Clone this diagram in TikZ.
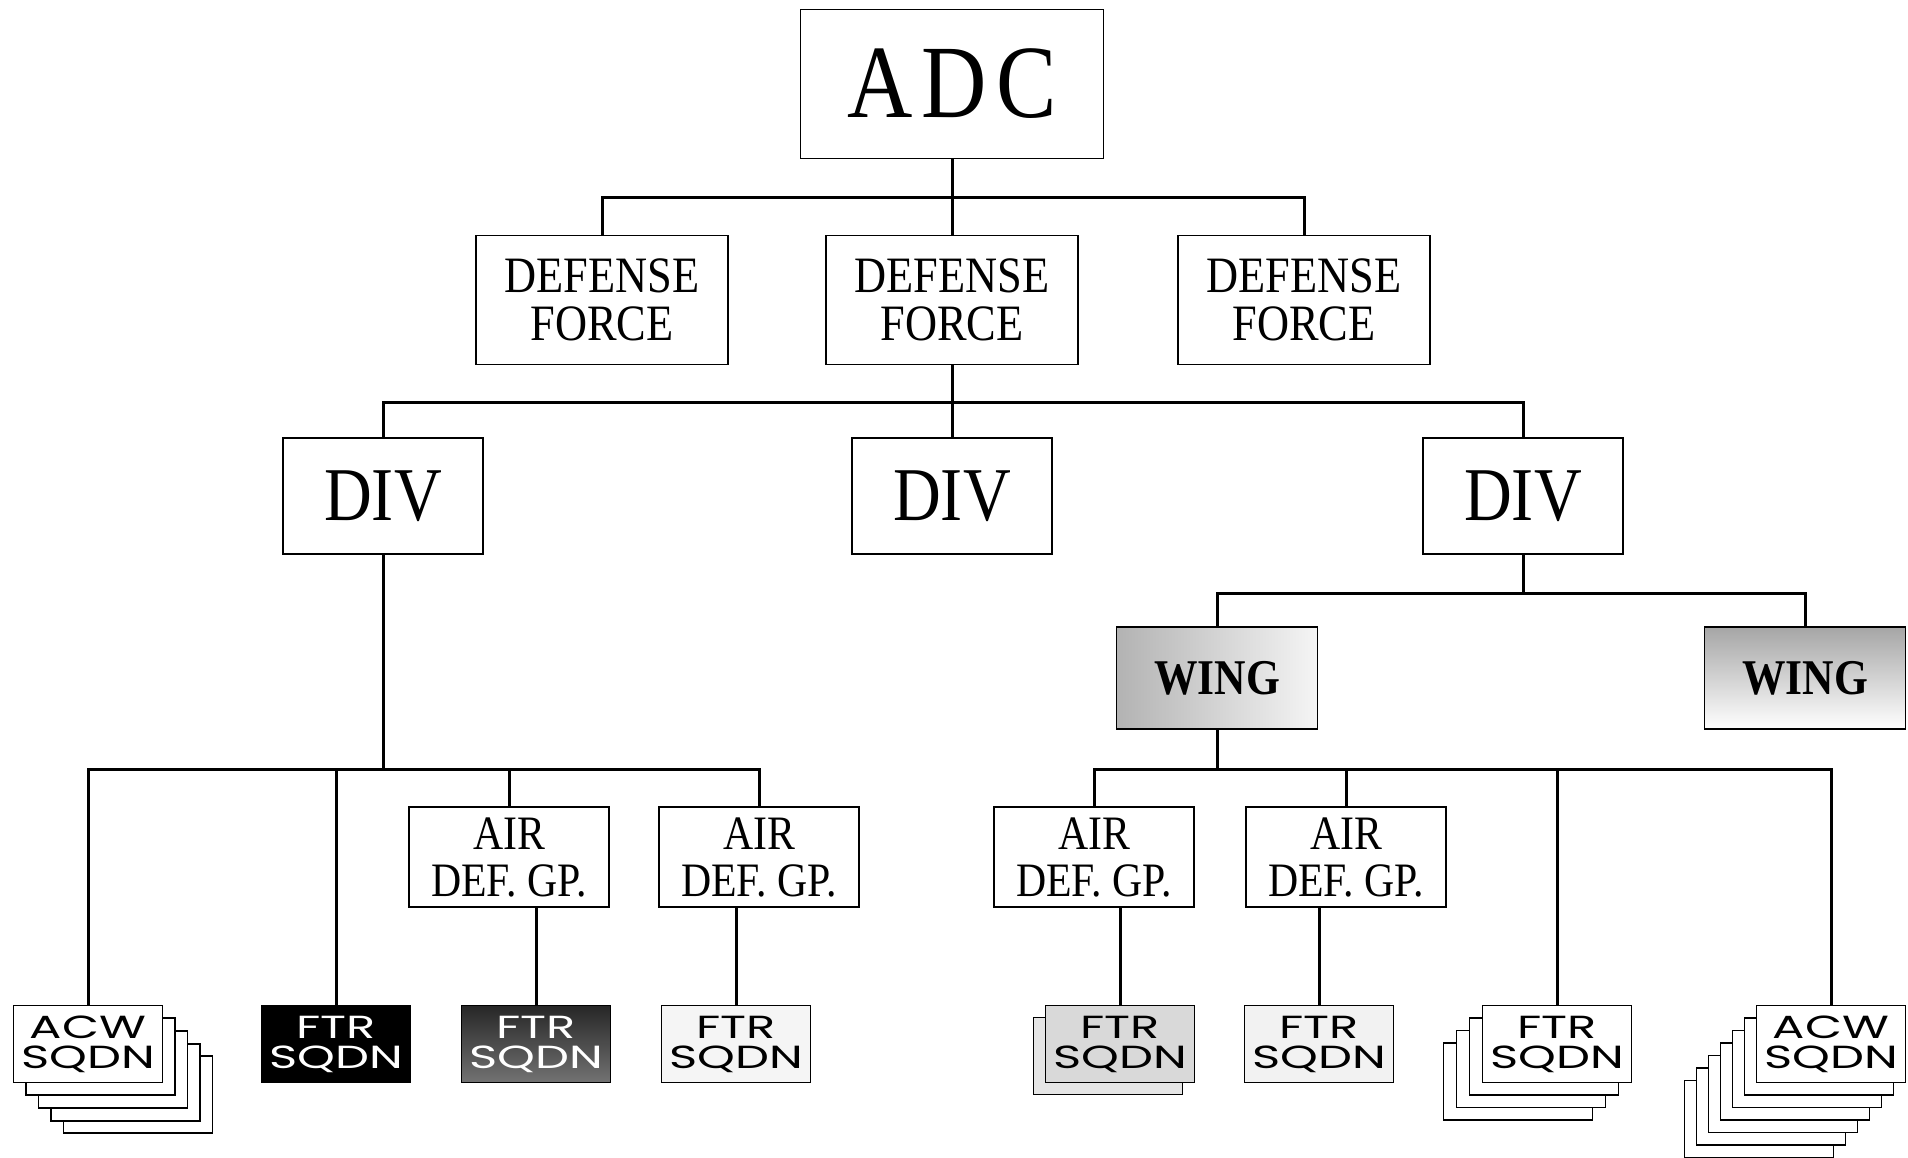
\documentclass[tikz,border=0pt]{standalone}
\usepackage{fontspec}
\newfontfamily\orgserif[FakeStretch=0.87]{Liberation Serif}
\newfontfamily\orgsans[FakeStretch=1.5]{Poppins}

\begin{document}
\begin{tikzpicture}[x=1pt, y=-1pt,
  unit/.style={draw, line width=1.8pt, fill=white, inner sep=0pt, align=center},
  dfbox/.style={unit, minimum width=252pt, minimum height=129pt, font=\orgserif\fontsize{51}{48}\selectfont},
  divbox/.style={unit, minimum width=200pt, minimum height=116pt, font=\orgserif\fontsize{76}{76}\selectfont},
  wingbox/.style={unit, minimum width=201pt, minimum height=102pt, font=\orgserif\bfseries\fontsize{50}{50}\selectfont},
  adgbox/.style={unit, minimum width=200pt, minimum height=100pt, font=\orgserif\fontsize{48}{47}\selectfont},
  sqdn/.style={unit, minimum width=149pt, minimum height=77pt, font=\orgsans\fontsize{32}{30}\selectfont},
  link/.style={line width=3pt, line cap=rect}]
\useasboundingbox (0,0) rectangle (1908,1158);

\node[unit, minimum width=303pt, minimum height=149pt, font=\orgserif\fontsize{104}{104}\selectfont] (adc) at (952,84) {A\hspace{9pt}D\hspace{9pt}C};

\node[dfbox] (df1) at (602,300) {DEFENSE\\FORCE};
\node[dfbox] (df2) at (952,300) {DEFENSE\\FORCE};
\node[dfbox] (df3) at (1304,300) {DEFENSE\\FORCE};

\node[divbox] (div1) at (383,496) {DIV};
\node[divbox] (div2) at (952,496) {DIV};
\node[divbox] (div3) at (1523,496) {DIV};

\node[wingbox, left color=gray!60, right color=gray!8] (wing1) at (1217,678) {WING};
\node[wingbox, top color=gray!70, bottom color=white] (wing2) at (1805,678) {WING};

\node[adgbox] (adg1) at (509,857) {AIR\\DEF. GP.};
\node[adgbox] (adg2) at (759,857) {AIR\\DEF. GP.};
\node[adgbox] (adg3) at (1094,857) {AIR\\DEF. GP.};
\node[adgbox] (adg4) at (1346,857) {AIR\\DEF. GP.};

% squadrons, stacked sheets first
\foreach \k in {4,3,2,1}
  \node[sqdn] (acw1s\k) at (88+12.5*\k, 1044+12.7*\k) {};
\node[sqdn] (acw1) at (88,1044) {ACW\\SQDN};
\node[sqdn, fill=black, text=white] (ftr1) at (336,1044) {FTR\\SQDN};
\node[sqdn, top color=black!85, bottom color=black!55, text=white] (ftr2) at (536,1044) {FTR\\SQDN};
\node[sqdn, fill=gray!8] (ftr3) at (736,1044) {FTR\\SQDN};
\node[sqdn, fill=gray!20] (ftr4s1) at (1108,1056) {};
\node[sqdn, fill=gray!30] (ftr4) at (1120,1044) {FTR\\SQDN};
\node[sqdn, fill=gray!10] (ftr5) at (1319,1044) {FTR\\SQDN};
\foreach \k in {3,2,1}
  \node[sqdn] (ftr6s\k) at (1557-13*\k, 1044+12.5*\k) {};
\node[sqdn] (ftr6) at (1557,1044) {FTR\\SQDN};
\foreach \k in {6,5,4,3,2,1}
  \node[sqdn] (acw2s\k) at (1831-12*\k, 1044+12.5*\k) {};
\node[sqdn] (acw2) at (1831,1044) {ACW\\SQDN};

\coordinate (bus1) at (952,198);
\coordinate (bus2) at (952,402);
\coordinate (bus3) at (1523,593);
\coordinate (bus4) at (383,769);
\coordinate (bus5) at (1217,769);

\draw[link] (adc.south) -- (df2.north);
\draw[link] (df1.north) |- (bus1) -| (df3.north);
\draw[link] (df2.south) -- (div2.north);
\draw[link] (div1.north) |- (bus2) -| (div3.north);
\draw[link] (div3.south) -- (bus3);
\draw[link] (wing1.north) |- (bus3) -| (wing2.north);
\draw[link] (div1.south) -- (bus4);
\draw[link] (acw1.north) |- (bus4) -| (adg2.north);
\draw[link] (ftr1.north) -- (ftr1.north |- bus4);
\draw[link] (adg1.north) -- (adg1.north |- bus4);
\draw[link] (wing1.south) -- (bus5);
\draw[link] (adg3.north) |- (bus5) -| (acw2.north);
\draw[link] (adg4.north) -- (adg4.north |- bus5);
\draw[link] (ftr6.north) -- (ftr6.north |- bus5);
\draw[link] (ftr2.north) -- (ftr2.north |- adg1.south);
\draw[link] (ftr3.north) -- (ftr3.north |- adg2.south);
\draw[link] (ftr4.north) -- (ftr4.north |- adg3.south);
\draw[link] (ftr5.north) -- (ftr5.north |- adg4.south);
\end{tikzpicture}
\end{document}
